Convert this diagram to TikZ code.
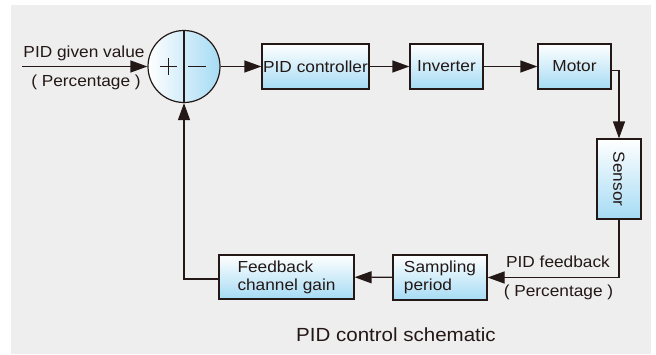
\documentclass[tikz,border=0pt]{standalone}
\usepackage{fontspec}
\setmainfont{Liberation Sans}[FakeStretch=1.08]
\usetikzlibrary{arrows.meta}
\definecolor{bg}{HTML}{EEEEEE}
\definecolor{ink}{HTML}{231815}
\definecolor{cblue}{HTML}{A5DBF4}
\begin{document}
\begin{tikzpicture}[x=1pt,y=-1pt,
  box/.style={draw=ink, line width=1.2pt, top color=white, bottom color=cblue,
    minimum height=45pt, inner sep=0pt, text=ink, font=\fontsize{16}{18}\selectfont},
  lbl/.style={text=ink, inner sep=0pt, font=\fontsize{16}{18}\selectfont},
  conn/.style={draw=ink, line width=1.2pt},
  arr/.style={conn, -{Triangle[length=17pt,width=12pt]}}]
\useasboundingbox (0,0) rectangle (656,354);
\fill[bg] (11,5) rectangle (651,354);
% summing junction
\node[circle, draw=ink, line width=1.2pt, minimum size=72pt, inner sep=0pt,
      left color=white, right color=cblue] (sum) at (184,66.5) {};
\draw[conn] (sum.north) -- (sum.south);
\draw[conn] ([xshift=-24pt]sum.center) -- ([xshift=-7pt]sum.center);
\draw[conn] ([xshift=-15.5pt,yshift=8.5pt]sum.center) -- ([xshift=-15.5pt,yshift=-8.5pt]sum.center);
\draw[conn] ([xshift=4pt]sum.center) -- ([xshift=22pt]sum.center);
% blocks
\node[box, minimum width=107pt] (pid) at (315.5,66.5) {PID controller};
\node[box, minimum width=73pt] (inv) at (446.5,66.5) {Inverter};
\node[box, minimum width=73pt] (mot) at (574.5,66.5) {Motor};
\node[box, minimum width=44pt, minimum height=80pt] (sen) at (619,179) {\rotatebox{-90}{Sensor}};
\node[box, minimum width=94pt, align=left] (samp) at (440,277.5) {Sampling\\period};
\node[box, minimum width=135pt, minimum height=44pt, align=left] (fcg) at (286.5,277) {Feedback\\channel gain};
% labels
\node[lbl, anchor=base] (given) at (84,57.5) {PID given value};
\node[lbl, anchor=base] (pct1) at (86,86) {( Percentage )};
\node[lbl, anchor=base] (fb) at (558,267.5) {PID feedback};
\node[lbl, anchor=base] (pct2) at (558.5,296) {( Percentage )};
\node[lbl, anchor=base, font=\fontsize{19}{21}\selectfont] (cap) at (396,341) {PID control schematic};
% connectors
\coordinate (in) at (22,66.5);
\draw[arr] (in) -- (sum.west);
\draw[arr] (sum.east) -- (pid.west);
\draw[arr] (pid) -- (inv);
\draw[arr] (inv) -- (mot);
\draw[arr] ([yshift=-4pt]mot.east) -| (sen.north);
\draw[arr] (sen.south) |- (samp.east);
\draw[arr] (samp) -- (fcg);
\draw[arr] ([yshift=-2pt]fcg.west) -| (sum.south);
\end{tikzpicture}
\end{document}
